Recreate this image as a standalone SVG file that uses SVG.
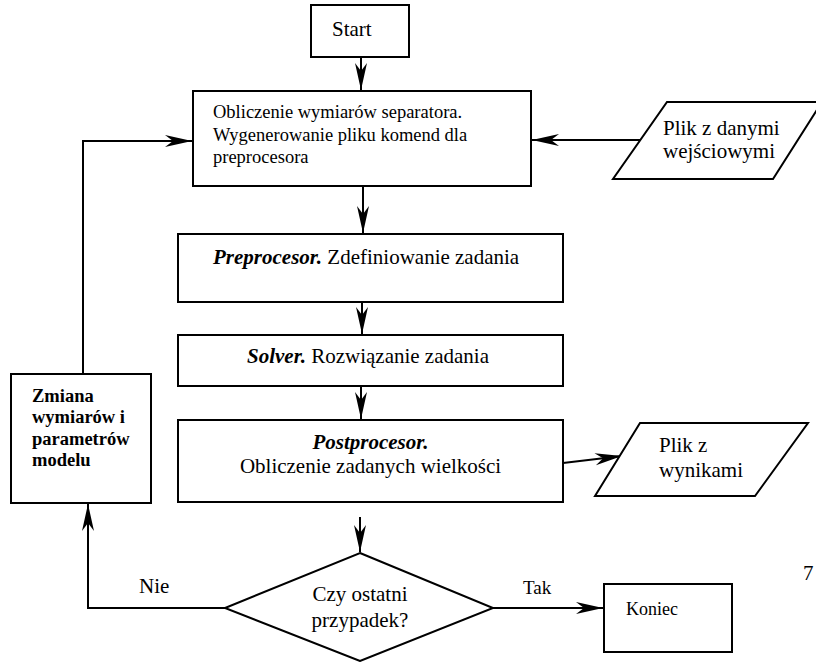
<svg xmlns="http://www.w3.org/2000/svg" width="816" height="662" viewBox="0 0 816 662">
<style>
.box{fill:#fff;stroke:#000;stroke-width:2}
.t{font-family:"Liberation Serif","Times New Roman",serif;font-size:21px;fill:#000}
.s{font-size:18.5px}
.b{font-weight:bold}
.bi{font-weight:bold;font-style:italic}
.c{text-anchor:middle}
.con{fill:none;stroke:#000;stroke-width:2}
</style>
<defs>
<marker id="ah" viewBox="-28 -7 29 14" markerWidth="29" markerHeight="14" refX="0" refY="0" orient="auto" markerUnits="userSpaceOnUse">
<path d="M0,0 L-27,-6 L-19,0 L-27,6 Z" fill="#000"/>
</marker>
</defs>
<rect width="816" height="662" fill="#fff"/>
<g id="connectors">
<path class="con" d="M361,57 L361,90" marker-end="url(#ah)"/>
<path class="con" d="M363,187 L363,233" marker-end="url(#ah)"/>
<path class="con" d="M362,302 L362,334" marker-end="url(#ah)"/>
<path class="con" d="M361,387 L361,419" marker-end="url(#ah)"/>
<path class="con" d="M360,517 L360,552" marker-end="url(#ah)"/>
<path class="con" d="M640,140 L532,140" marker-end="url(#ah)"/>
<path class="con" d="M83,374 L83,141 L192,141" marker-end="url(#ah)"/>
<path class="con" d="M563,463 L622,456" marker-end="url(#ah)"/>
<path class="con" d="M225,608 L88,608 L88,504" marker-end="url(#ah)"/>
<path class="con" d="M493,608 L603,608" marker-end="url(#ah)"/>
<text class="t" x="139" y="593">Nie</text>
<text class="t" x="523" y="594" style="font-size:19px">Tak</text>
</g>
<g id="start">
<rect class="box" x="311" y="5" width="98" height="52"/>
<text class="t" x="332" y="36">Start</text>
</g>
<g id="obliczenie">
<rect class="box" x="193" y="91" width="338" height="95"/>
<text class="t s" x="213" y="118">Obliczenie wymiarów separatora.</text>
<text class="t s" x="213" y="140.5">Wygenerowanie pliku komend dla</text>
<text class="t s" x="213" y="163">preprocesora</text>
</g>
<g id="plik-wejscie">
<polygon class="box" points="667,102 822,102 773,179 613,179"/>
<text class="t" x="663" y="135">Plik z danymi</text>
<text class="t" x="663" y="158">wejściowymi</text>
</g>
<g id="preprocesor">
<rect class="box" x="178" y="234" width="385" height="68"/>
<text class="t" x="213" y="264"><tspan class="bi">Preprocesor.</tspan> Zdefiniowanie zadania</text>
</g>
<g id="solver">
<rect class="box" x="178" y="335" width="385" height="51"/>
<text class="t" x="247" y="363"><tspan class="bi">Solver.</tspan> Rozwiązanie zadania</text>
</g>
<g id="postprocesor">
<rect class="box" x="178" y="420" width="385" height="82"/>
<text class="t c bi" x="370.5" y="449">Postprocesor.</text>
<text class="t c" x="370.5" y="473">Obliczenie zadanych wielkości</text>
</g>
<g id="plik-wyniki">
<polygon class="box" points="640,423 808,423 755,496 595,496"/>
<text class="t" x="659" y="452">Plik z</text>
<text class="t" x="659" y="477">wynikami</text>
</g>
<g id="zmiana">
<rect class="box" x="11" y="374" width="140" height="129"/>
<text class="t s b" x="32" y="402">Zmiana</text>
<text class="t s b" x="32" y="423">wymiarów i</text>
<text class="t s b" x="32" y="445">parametrów</text>
<text class="t s b" x="32" y="466">modelu</text>
</g>
<g id="decyzja">
<polygon class="box" points="360,553 493,608 360,661 225,608"/>
<text class="t c" x="360" y="601">Czy ostatni</text>
<text class="t c" x="360" y="627">przypadek?</text>
</g>
<g id="koniec">
<rect class="box" x="604" y="584" width="128" height="68"/>
<text class="t" x="626" y="615" style="font-size:18px">Koniec</text>
</g>
<text class="t" x="803" y="580">7</text>
</svg>
